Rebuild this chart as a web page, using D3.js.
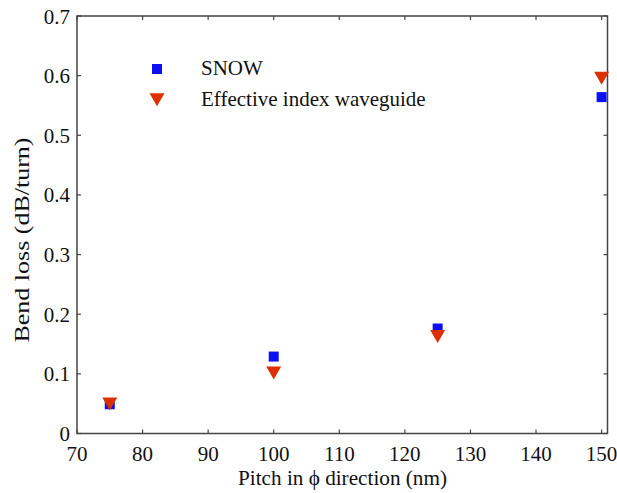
<!DOCTYPE html>
<html><head><meta charset="utf-8">
<script src="https://cdn.jsdelivr.net/npm/d3@7"></script>
<style>body{margin:0;background:#fff}svg{display:block}text{font-family:"Liberation Serif","Times New Roman",serif;fill:#111}</style>
</head><body>
<script>
const pitch = [75, 100, 125, 150];
const snow = [0.049, 0.129, 0.176, 0.564];
const effIndex = [0.052, 0.104, 0.165, 0.598];
const xTicks = [70, 80, 90, 100, 110, 120, 130, 140, 150];
const yTicks = [0, 0.1, 0.2, 0.3, 0.4, 0.5, 0.6, 0.7];
const seriesNames = ["SNOW", "Effective index waveguide"];

const W = 617, H = 493;
const m = {l: 77, r: 9.5, t: 16, b: 59.5};
const svg = d3.select("body").append("svg").attr("width", W).attr("height", H);
const x = d3.scaleLinear().domain([70, 150.9]).range([m.l, W - m.r]);
const y = d3.scaleLinear().domain([0, 0.7]).range([H - m.b, m.t]);
const axCol = "#444";

const g = svg.append("g");
g.append("rect").attr("x", x.range()[0]).attr("y", y.range()[1])
  .attr("width", x.range()[1] - x.range()[0]).attr("height", y.range()[0] - y.range()[1])
  .attr("fill", "none").attr("stroke", axCol).attr("stroke-width", 1.5);

const tl = 4;
xTicks.forEach(t => {
  g.append("line").attr("x1", x(t)).attr("x2", x(t)).attr("y1", y(0)).attr("y2", y(0) - tl).attr("stroke", axCol).attr("stroke-width", 1.2);
  g.append("line").attr("x1", x(t)).attr("x2", x(t)).attr("y1", y(0.7)).attr("y2", y(0.7) + tl).attr("stroke", axCol).attr("stroke-width", 1.2);
  g.append("text").attr("x", x(t)).attr("y", 461).attr("text-anchor", "middle").attr("font-size", 21).text(t);
});
yTicks.forEach(t => {
  g.append("line").attr("x1", x(70)).attr("x2", x(70) + tl).attr("y1", y(t)).attr("y2", y(t)).attr("stroke", axCol).attr("stroke-width", 1.2);
  g.append("line").attr("x1", x.range()[1]).attr("x2", x.range()[1] - tl).attr("y1", y(t)).attr("y2", y(t)).attr("stroke", axCol).attr("stroke-width", 1.2);
  g.append("text").attr("x", 70).attr("y", y(t) + 7.5).attr("text-anchor", "end").attr("font-size", 21).text(t === 0 ? "0" : d3.format(".1f")(t));
});

svg.append("text").attr("x", 342.5).attr("y", 485).attr("text-anchor", "middle").attr("font-size", 21)
  .attr("textLength", 209).attr("lengthAdjust", "spacingAndGlyphs").text("Pitch in \u03D5 direction (nm)");
svg.append("text").attr("transform", `translate(29,240) rotate(-90)`).attr("text-anchor", "middle").attr("font-size", 20)
  .attr("textLength", 205).attr("lengthAdjust", "spacingAndGlyphs").text("Bend loss (dB/turn)");

const blue = "#0a10f0", red = "#dd3000";
const sq = 10;
const tri = (cx, cy) => `M${cx - 7.5},${cy - 5} L${cx + 7.5},${cy - 5} L${cx},${cy + 8} Z`;

svg.append("g").selectAll("rect").data(pitch).join("rect")
  .attr("x", (d) => x(d) - sq / 2).attr("y", (d, i) => y(snow[i]) - sq / 2)
  .attr("width", sq).attr("height", sq).attr("fill", blue);
svg.append("g").selectAll("path").data(pitch).join("path")
  .attr("d", (d, i) => tri(x(d), y(effIndex[i]))).attr("fill", red);

const lg = svg.append("g");
lg.append("rect").attr("x", 152).attr("y", 64).attr("width", sq).attr("height", sq).attr("fill", blue);
lg.append("text").attr("x", 201).attr("y", 75).attr("font-size", 21).text(seriesNames[0]);
lg.append("path").attr("d", tri(157, 98.3)).attr("fill", red);
lg.append("text").attr("x", 201).attr("y", 106).attr("font-size", 21).text(seriesNames[1]);
</script>
</body></html>
